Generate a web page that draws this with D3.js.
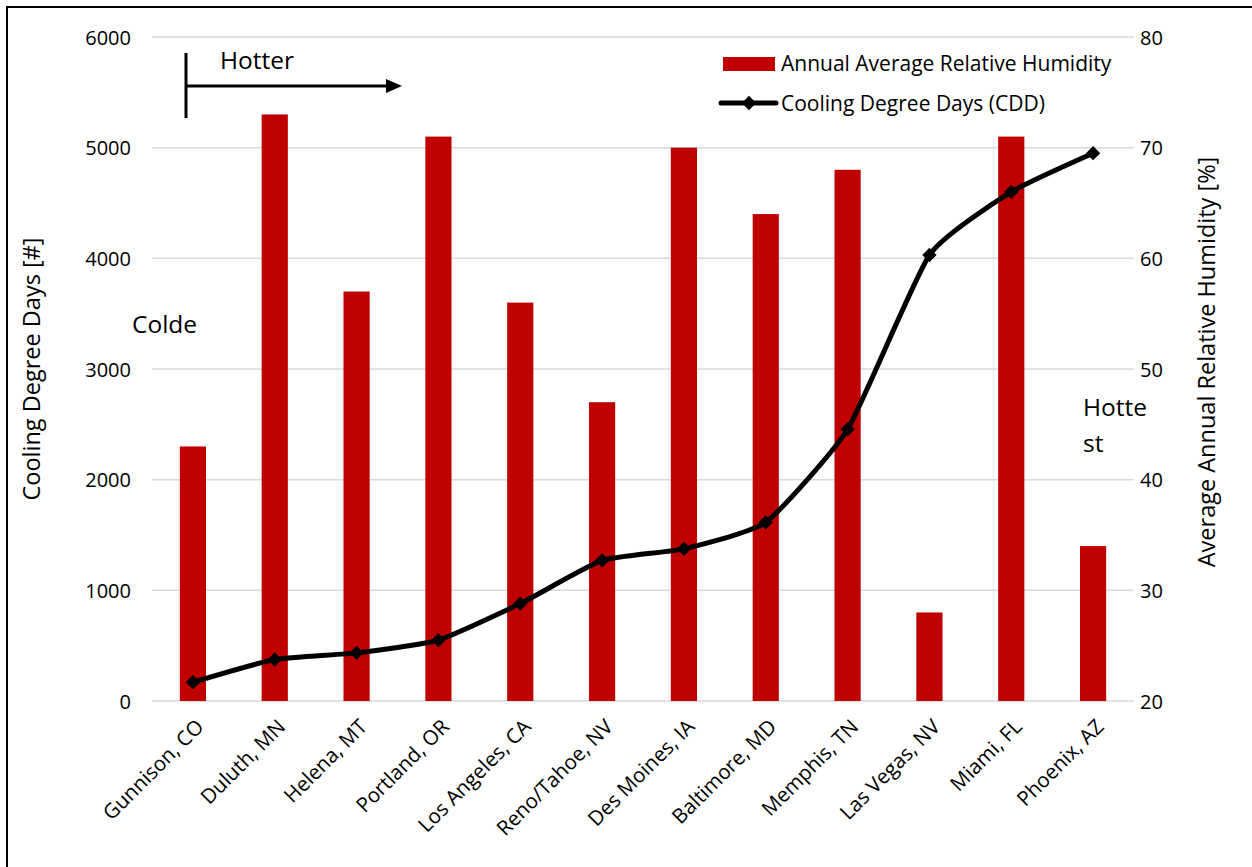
<!DOCTYPE html>
<html><head><meta charset="utf-8">
<script src="https://cdn.jsdelivr.net/npm/d3@7"></script>
<style>body{margin:0;background:#fff}svg{display:block}text{font-family:"Open Sans","Noto Sans",sans-serif;fill:#000}</style>
</head><body><svg id="c" width="1252" height="867"></svg>
<script>
const cities = ["Gunnison, CO","Duluth, MN","Helena, MT","Portland, OR","Los Angeles, CA","Reno/Tahoe, NV","Des Moines, IA","Baltimore, MD","Memphis, TN","Las Vegas, NV","Miami, FL","Phoenix, AZ"];
const humidity = [43,73,57,71,56,47,70,64,68,28,71,34];
const cdd = [170,375,435,550,880,1270,1375,1615,2455,4030,4600,4950];
const leftTicks = [0,1000,2000,3000,4000,5000,6000];
const rightTicks = [20,30,40,50,60,70,80];

const svg = d3.select("#c");
const L=152,R=1134,T=37,B=701;
svg.append("rect").attr("x",7).attr("y",7).attr("width",1300).attr("height",900).attr("fill","none").attr("stroke","#000").attr("stroke-width",2);

const x = d3.scaleBand().domain(cities).range([L,R]);
const yL = d3.scaleLinear().domain([0,6000]).range([B,T]);
const yR = d3.scaleLinear().domain([20,80]).range([B,T]);

// gridlines
svg.append("g").selectAll("line").data(leftTicks).join("line")
  .attr("x1",L).attr("x2",R).attr("y1",d=>yL(d)).attr("y2",d=>yL(d))
  .attr("stroke","#d9d9d9").attr("stroke-width",1.5);

// axes
const ga = svg.append("g").attr("transform",`translate(${L-21},0)`)
  .call(d3.axisLeft(yL).tickValues(leftTicks).tickFormat(d3.format("d")).tickSize(0).tickPadding(0));
ga.select(".domain").remove();
ga.selectAll("text").attr("font-size",20).attr("font-family","Open Sans").attr("dy","0.35em");
const gr = svg.append("g").attr("transform",`translate(${R+6},0)`)
  .call(d3.axisRight(yR).tickValues(rightTicks).tickSize(0).tickPadding(0));
gr.select(".domain").remove();
gr.selectAll("text").attr("font-size",20).attr("font-family","Open Sans").attr("dy","0.35em");

const gx = svg.append("g").attr("transform",`translate(0,${B})`)
  .call(d3.axisBottom(x).tickSize(0).tickPadding(0));
gx.select(".domain").remove();
gx.selectAll("text").attr("font-size",20.5).attr("font-family","Open Sans")
  .attr("text-anchor","end").attr("dy",0).attr("dx",0)
  .attr("transform","translate(12,27) rotate(-45)");

// bars
const bw = x.bandwidth()*0.32;
svg.append("g").selectAll("rect").data(cities).join("rect")
  .attr("x",d=>x(d)+x.bandwidth()/2-bw/2).attr("width",bw)
  .attr("y",(d,i)=>yR(humidity[i])).attr("height",(d,i)=>yR(20)-yR(humidity[i]))
  .attr("fill","#c00000");

// line
const pts = cities.map((c,i)=>[x(c)+x.bandwidth()/2, yL(cdd[i])]);
svg.append("path").attr("d",d3.line().curve(d3.curveCardinal.tension(0.5))(pts))
  .attr("fill","none").attr("stroke","#000").attr("stroke-width",5).attr("stroke-linejoin","round");
const diamond = d3.symbol().type(d3.symbolDiamond2).size(130);
svg.append("g").selectAll("path").data(pts).join("path")
  .attr("d",diamond).attr("transform",d=>`translate(${d[0]},${d[1]})`).attr("fill","#000");

// axis titles
svg.append("text").attr("transform","translate(40,369) rotate(-90)").attr("text-anchor","middle")
  .attr("font-size",23.5).text("Cooling Degree Days [#]");
svg.append("text").attr("transform","translate(1215,362) rotate(-90)").attr("text-anchor","middle")
  .attr("font-size",23.5).text("Average Annual Relative Humidity [%]");

// legend
svg.append("rect").attr("x",723).attr("y",57).attr("width",52).attr("height",14).attr("fill","#c00000");
svg.append("text").attr("x",781).attr("y",71).attr("font-size",21).text("Annual Average Relative Humidity");
svg.append("line").attr("x1",721).attr("x2",776).attr("y1",103).attr("y2",103).attr("stroke","#000").attr("stroke-width",5).attr("stroke-linecap","round");
svg.append("path").attr("d",diamond).attr("transform","translate(749,103)");
svg.append("text").attr("x",781).attr("y",111).attr("font-size",21).text("Cooling Degree Days (CDD)");

// annotations
svg.append("line").attr("x1",186).attr("x2",186).attr("y1",53).attr("y2",118).attr("stroke","#000").attr("stroke-width",3);
svg.append("line").attr("x1",186).attr("x2",388).attr("y1",86).attr("y2",86).attr("stroke","#000").attr("stroke-width",3);
svg.append("path").attr("d","M386,79 L402,86 L386,93 Z").attr("fill","#000");
svg.append("text").attr("x",220).attr("y",69).attr("font-size",24.5).text("Hotter");
svg.append("text").attr("x",132).attr("y",333).attr("font-size",24.5).text("Colde");
svg.append("text").attr("x",1083).attr("y",416).attr("font-size",24.5).text("Hotte");
svg.append("text").attr("x",1083).attr("y",452).attr("font-size",24.5).text("st");
</script></body></html>
